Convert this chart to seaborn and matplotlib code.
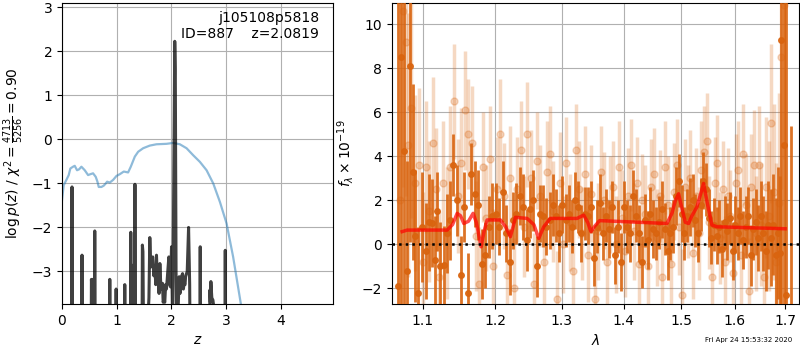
import numpy as np
import pandas as pd
import matplotlib
matplotlib.use('Agg')
import matplotlib.pyplot as plt
from matplotlib.ticker import ScalarFormatter, NullLocator
import seaborn as sns

# ── data: redshift fit ─────────────────────────────────────
chi2_z = [0.0, 0.031, 0.08, 0.123, 0.153, 0.202, 0.233, 0.275, 0.312, 0.355,
          0.416, 0.477, 0.519, 0.568, 0.617, 0.648, 0.672, 0.721, 0.764, 0.80,
          0.825, 0.874, 0.935, 0.996, 1.057, 1.13, 1.209, 1.258, 1.332, 1.393,
          1.484, 1.606, 1.728, 1.911, 2.033, 2.155, 2.278, 2.40, 2.522, 2.644,
          2.766, 2.888, 3.01, 3.13, 3.22, 3.27, 3.33]
chi2_logp = [-1.38, -1.04, -0.92, -0.81, -0.66, -0.62, -0.60, -0.70, -0.68, -0.62,
             -0.70, -0.81, -0.79, -0.77, -0.85, -0.96, -1.08, -1.08, -1.05, -1.0,
             -0.96, -0.98, -0.92, -0.83, -0.79, -0.73, -0.75, -0.62, -0.39, -0.28,
             -0.20, -0.14, -0.11, -0.10, -0.08, -0.11, -0.20, -0.36, -0.51, -0.70,
             -1.0, -1.42, -1.91, -2.67, -3.35, -3.73, -4.5]

pz_z = [0.0, 0.17, 0.183, 0.196, 0.355, 0.366, 0.377, 0.53, 0.538, 0.548,
        0.556, 0.565, 0.59, 0.599, 0.61, 0.865, 0.874, 0.884, 0.98, 0.99,
        1.0, 1.14, 1.148, 1.157, 1.25, 1.258, 1.268, 1.29, 1.30, 1.31,
        1.325, 1.334, 1.345, 1.46, 1.47, 1.48, 1.50, 1.59, 1.606, 1.622,
        1.637, 1.66, 1.68, 1.698, 1.715, 1.728, 1.745, 1.758, 1.775, 1.79,
        1.81, 1.838, 1.85, 1.863, 1.88, 1.895, 1.91, 1.923, 1.954, 1.97,
        1.985, 2.003, 2.02, 2.035, 2.062, 2.072, 2.095, 2.12, 2.143, 2.158,
        2.174, 2.19, 2.205, 2.22, 2.234, 2.25, 2.26, 2.29, 2.315, 2.335,
        2.35, 2.52, 2.528, 2.537, 2.69, 2.705, 2.715, 2.723, 2.74, 2.76,
        2.77, 2.78, 2.975, 2.986, 2.998, 4.96]
pz_logp = [-6, -6, -1.08, -6, -6, -2.63, -6, -6, -3.18, -3.45,
           -3.18, -6, -6, -2.08, -6, -6, -3.18, -6, -6, -3.40,
           -6, -6, -3.30, -6, -6, -2.11, -6, -6, -2.86, -6,
           -6, -1.02, -6, -6, -2.40, -2.55, -6, -3.6, -2.23, -2.9,
           -2.74, -2.67, -3.1, -2.93, -3.3, -2.63, -3.2, -3.05, -3.5, -2.82,
           -3.4, -3.27, -3.7, -3.65, -3.7, -3.3, -3.4, -3.2, -2.67, -3.3,
           -3.35, -2.44, -3.9, -2.5, 2.23, 1.6, -6, -4.0, -3.12, -3.5,
           -3.35, -3.1, -3.05, -3.4, -3.27, -3.3, -3.12, -3.0, -2.0, -3.3,
           -6, -6, -2.44, -6, -6, -3.42, -3.7, -3.23, -3.6, -3.65,
           -3.75, -6, -6, -2.52, -6, -6]

# ── data: 1D spectrum ──────────────────────────────────────
wave_a = [1.068, 1.072, 1.0755, 1.079, 1.083, 1.087, 1.0895, 1.094, 1.099, 1.104,
          1.108, 1.112, 1.116, 1.1185, 1.123, 1.128, 1.132, 1.137, 1.141, 1.146,
          1.151, 1.156, 1.161, 1.166, 1.171, 1.176, 1.181, 1.186, 1.191, 1.196,
          1.201, 1.206, 1.211, 1.216, 1.221, 1.226, 1.231, 1.236, 1.241, 1.246,
          1.251, 1.256, 1.261, 1.266, 1.271, 1.276, 1.281, 1.286, 1.291, 1.296,
          1.301, 1.306, 1.311, 1.316, 1.321, 1.326, 1.331, 1.336, 1.341, 1.346,
          1.351, 1.356, 1.361, 1.366, 1.371, 1.376, 1.381, 1.386, 1.391, 1.396,
          1.401, 1.406, 1.411, 1.416, 1.421, 1.426, 1.431, 1.436, 1.441, 1.446,
          1.451, 1.456, 1.461, 1.466, 1.471, 1.476, 1.481, 1.486, 1.491, 1.496,
          1.501, 1.506, 1.511, 1.516, 1.521, 1.526, 1.531, 1.536, 1.541, 1.546,
          1.551, 1.556, 1.561, 1.566, 1.571, 1.576, 1.581, 1.586, 1.591, 1.596,
          1.601, 1.606, 1.611, 1.616, 1.621, 1.626, 1.631, 1.636, 1.641, 1.646,
          1.651, 1.656, 1.661, 1.666, 1.671, 1.676, 1.681, 1.685, 1.689, 1.692,
          1.697, 1.702, 1.712]
flux_a = [-1.9, 8.5, 4.25, -1.2, 8.1, 3.3, 0.4, -2.2, 0.8, -0.3,
          1.0, 0.95, -0.7, 1.5, -1.0, -0.95, 0.5, 1.1, 3.6, 2.0,
          -1.4, 1.7, -2.2, 3.2, 2.3, 1.8, -0.9, -0.5, 0.8, 1.3,
          1.4, 0.8, 2.4, 0.5, -0.8, 1.1, 1.4, 2.2, 1.7, 0.2,
          1.6, 2.0, -1.0, 1.4, 1.3, 0.8, 1.1, 1.8, 1.3, 0.5,
          1.8, 1.1, 1.4, 0.8, 2.0, 1.7, 0.5, 1.4, 1.3, 1.7,
          -0.6, 0.8, 1.9, 0.5, 1.3, 0.7, 1.7, -0.5, 0.8, -0.8,
          1.7, 0.8, 0.5, 2.2, 1.3, 0.5, -0.8, 1.1, 0.2, 1.4,
          0.7, 0.5, 1.0, 1.6, 0.7, -0.3, 0.5, 0.8, 2.2, 2.9,
          1.4, 0.5, 1.3, 1.7, 2.0, 1.1, 0.5, 1.8, 2.9, 2.5,
          1.2, 0.3, 0.9, 0.4, 0.8, -0.2, 1.0, 0.6, 1.2, -0.3,
          0.9, 0.5, 1.3, 0.2, 0.8, 1.3, -0.5, 0.7, 1.0, 0.3,
          1.3, 0.5, -0.3, 0.9, 0.3, 0.9, -0.5, 0.5, -0.4, 9.3,
          4.5, -2.3, -3.2]
err_a = [15, 12, 7, 5, 8, 4, 3, 3, 2.5, 2.2,
         2.2, 2.0, 2.0, 1.8, 2.0, 1.8, 1.8, 1.8, 1.4, 1.6,
         1.8, 1.6, 1.8, 1.4, 1.5, 1.6, 1.6, 1.5, 1.4, 1.5,
         1.4, 1.3, 1.4, 1.3, 1.5, 1.3, 1.4, 1.3, 1.5, 1.4,
         1.3, 1.4, 1.4, 1.3, 1.4, 1.3, 1.3, 1.4, 1.2, 1.3,
         1.3, 1.2, 1.3, 1.2, 1.3, 1.2, 1.3, 1.2, 1.3, 1.2,
         1.3, 1.2, 1.3, 1.2, 1.2, 1.3, 1.2, 1.3, 1.2, 1.3,
         1.2, 1.2, 1.3, 1.2, 1.2, 1.3, 1.2, 1.2, 1.3, 1.2,
         1.3, 1.2, 1.2, 1.3, 1.2, 1.3, 1.2, 1.2, 1.3, 1.2,
         1.3, 1.2, 1.2, 1.3, 1.2, 1.2, 1.3, 1.2, 1.3, 1.2,
         1.3, 1.2, 1.2, 1.3, 1.2, 1.3, 1.2, 1.3, 1.2, 1.3,
         1.3, 1.2, 1.3, 1.3, 1.4, 1.3, 1.4, 1.4, 1.5, 1.5,
         1.6, 1.7, 1.8, 2.0, 2.2, 2.3, 2.6, 3.0, 3.5, 14,
         13, 14, 8.6]

wave_b = [1.070, 1.074, 1.078, 1.081, 1.085, 1.090, 1.095, 1.100, 1.104, 1.108,
          1.113, 1.117, 1.122, 1.127, 1.132, 1.137, 1.142, 1.147, 1.152, 1.157,
          1.162, 1.167, 1.172, 1.177, 1.182, 1.187, 1.192, 1.197, 1.202, 1.207,
          1.212, 1.217, 1.222, 1.227, 1.232, 1.237, 1.242, 1.247, 1.252, 1.257,
          1.262, 1.267, 1.272, 1.277, 1.282, 1.287, 1.292, 1.297, 1.302, 1.307,
          1.312, 1.317, 1.322, 1.327, 1.332, 1.337, 1.342, 1.347, 1.352, 1.357,
          1.362, 1.367, 1.372, 1.377, 1.382, 1.387, 1.392, 1.397, 1.402, 1.407,
          1.412, 1.417, 1.422, 1.427, 1.432, 1.437, 1.442, 1.447, 1.452, 1.457,
          1.462, 1.467, 1.472, 1.477, 1.482, 1.487, 1.492, 1.497, 1.502, 1.507,
          1.512, 1.517, 1.522, 1.527, 1.532, 1.537, 1.542, 1.547, 1.552, 1.557,
          1.562, 1.567, 1.572, 1.577, 1.582, 1.587, 1.592, 1.597, 1.602, 1.607,
          1.612, 1.617, 1.622, 1.627, 1.632, 1.637, 1.642, 1.647, 1.652, 1.657,
          1.662, 1.667, 1.672, 1.677, 1.682, 1.687, 1.692, 1.697]
flux_b = [2.0, 10.6, 9.2, 4.5, 6.2, 2.8, 3.6, -0.8, 3.5, 1.5,
          4.6, 2.5, -1.5, 2.8, 0.5, 3.5, 6.5, 2.2, 3.7, 6.1,
          5.0, 4.6, 0.4, -1.8, 3.5, 1.2, 3.9, -1.0, 2.5, 5.0,
          2.2, -1.4, 3.0, -2.0, 2.5, 4.3, 0.8, 5.0, 3.0, -1.8,
          3.8, 2.2, -0.8, 3.3, 4.1, 1.5, -2.5, 2.8, 0.0, 3.7,
          1.0, -1.2, 4.3, 2.5, 0.5, 3.2, -0.5, 2.3, -2.5, 0.6,
          3.3, 2.0, -0.8, 1.8, 2.6, 0.0, 3.5, 1.2, -0.3, 2.2,
          3.6, 0.6, 2.8, -0.9, 2.0, 1.4, -1.0, 2.6, 3.2, 0.3,
          2.2, -1.5, 3.5, 1.8, -0.9, 2.4, 3.6, 0.8, -2.3, 2.6,
          1.5, 3.0, -0.4, 2.2, 0.5, 3.4, 4.2, 4.7, 1.0, -1.5,
          2.8, 3.7, 0.3, 2.5, -0.8, 2.2, 1.3, -1.3, 2.8, 3.4,
          -0.5, 4.1, 1.8, -2.1, 2.6, 3.6, 0.5, 3.6, 0.9, -1.5,
          2.6, 1.3, 5.5, 2.4, -0.8, 1.9, 8.5, 10.9]
err_b = [10, 8, 7, 6, 5, 4, 3.5, 3.2, 3.0, 3.2,
         3.0, 2.8, 3.0, 2.8, 3.0, 2.8, 2.6, 2.6, 2.5, 2.7,
         2.5, 2.6, 2.5, 2.6, 2.5, 2.4, 2.4, 2.6, 2.4, 2.5,
         2.4, 2.3, 2.4, 2.3, 2.4, 2.2, 2.3, 2.4, 2.2, 2.3,
         2.2, 2.3, 2.2, 2.3, 2.2, 2.3, 2.2, 2.3, 2.2, 2.1,
         2.2, 2.2, 2.1, 2.2, 2.1, 2.2, 2.1, 2.2, 2.1, 2.2,
         2.1, 2.2, 2.1, 2.2, 2.1, 2.2, 2.1, 2.2, 2.1, 2.2,
         2.1, 2.2, 2.1, 2.2, 2.1, 2.2, 2.1, 2.2, 2.1, 2.2,
         2.1, 2.2, 2.1, 2.2, 2.1, 2.2, 2.1, 2.2, 2.1, 2.2,
         2.1, 2.2, 2.1, 2.2, 2.1, 2.2, 2.1, 2.2, 2.1, 2.2,
         2.1, 2.2, 2.1, 2.2, 2.1, 2.2, 2.1, 2.2, 2.2, 2.2,
         2.3, 2.3, 2.3, 2.4, 2.4, 2.5, 2.6, 2.7, 2.8, 3.0,
         3.2, 3.4, 3.6, 4.0, 4.5, 5.0, 6.0, 7.0]

model_wave = [1.073, 1.0795, 1.1326, 1.140, 1.1463, 1.151, 1.1555, 1.162, 1.1685, 1.173,
              1.1798, 1.184, 1.1883, 1.2075, 1.215, 1.222, 1.226, 1.2294, 1.2468, 1.257,
              1.2644, 1.272, 1.2822, 1.3239, 1.3345, 1.341, 1.3463, 1.353, 1.3604, 1.475,
              1.4838, 1.490, 1.4957, 1.502, 1.508, 1.5138, 1.520, 1.529, 1.536, 1.5413,
              1.548, 1.5568, 1.5662, 1.7001]
model_flux = [0.58, 0.65, 0.65, 0.9, 1.41, 1.3, 0.95, 1.05, 1.41, 1.0,
              -0.11, 0.6, 1.11, 1.11, 0.8, 0.35, 0.8, 1.23, 1.18, 0.9,
              0.27, 0.8, 1.18, 1.18, 1.33, 1.0, 0.58, 0.85, 1.08, 0.95,
              1.41, 2.0, 2.3, 1.6, 1.0, 0.95, 1.3, 1.7, 2.3, 2.77,
              1.9, 0.88, 0.8, 0.71]

chi2_df = pd.DataFrame({'z': chi2_z, 'logp': chi2_logp})
pz_df = pd.DataFrame({'z': pz_z, 'logp': pz_logp})
model_df = pd.DataFrame({'wave': model_wave, 'flux': model_flux})

orange = '#d9640f'

fig = plt.figure(figsize=(8, 3.5), dpi=100)
ax1 = fig.add_axes([0.0775, 0.1314, 0.339, 0.86])
ax2 = fig.add_axes([0.49, 0.1314, 0.509, 0.86])

# ── left: p(z) ─────────────────────────────────────────────
sns.lineplot(data=chi2_df, x='z', y='logp', ax=ax1, color='tab:blue', alpha=0.5,
             lw=1.6, sort=False, estimator=None)
sns.lineplot(data=pz_df, x='z', y='logp', ax=ax1, color='k', alpha=0.75,
             lw=2.2, sort=False, estimator=None)
ax1.set_xlim(0, 4.96)
ax1.set_ylim(-3.74, 3.1)
ax1.set_xticks([0, 1, 2, 3, 4])
ax1.set_yticks([-3, -2, -1, 0, 1, 2, 3])
ax1.grid(True)
ax1.set_xlabel(r'$z$')
ax1.set_ylabel(r'$\log p(z)$' + ' / ' + r'$\chi^2=\frac{4713}{5256}=0.90$')
ax1.text(0.948, 0.975, 'j105108p5818\nID=887    z=2.0819', transform=ax1.transAxes,
         ha='right', va='top', fontsize=10, linespacing=1.25)

# ── right: spectrum ────────────────────────────────────────
ax2.errorbar(wave_b, flux_b, yerr=err_b, fmt='o', color=orange, alpha=0.25,
             ms=5, elinewidth=2.5, capsize=0, zorder=2)
ax2.errorbar(wave_a, flux_a, yerr=err_a, fmt='o', color=orange, alpha=0.9,
             ms=4, elinewidth=2, capsize=0, zorder=3)
sns.lineplot(data=model_df, x='wave', y='flux', ax=ax2, color='r', alpha=0.7,
             lw=2.5, sort=False, estimator=None, zorder=4)
ax2.axhline(0, color='k', linestyle=':', lw=1.8, zorder=5)
ax2.set_xscale('log')
ax2.set_xlim(1.060, 1.729)
ax2.set_ylim(-2.71, 10.97)
ax2.set_xticks([1.1, 1.2, 1.3, 1.4, 1.5, 1.6, 1.7])
ax2.xaxis.set_major_formatter(ScalarFormatter())
ax2.xaxis.set_minor_locator(NullLocator())
ax2.set_yticks([-2, 0, 2, 4, 6, 8, 10])
ax2.grid(True)
ax2.set_xlabel(r'$\lambda$')
ax2.set_ylabel(r'$f_\lambda\times 10^{-19}$')

fig.text(0.99, 0.02, 'Fri Apr 24 15:53:32 2020', ha='right', va='bottom', fontsize=5)

plt.savefig('out.png', dpi=100)
plt.close()
